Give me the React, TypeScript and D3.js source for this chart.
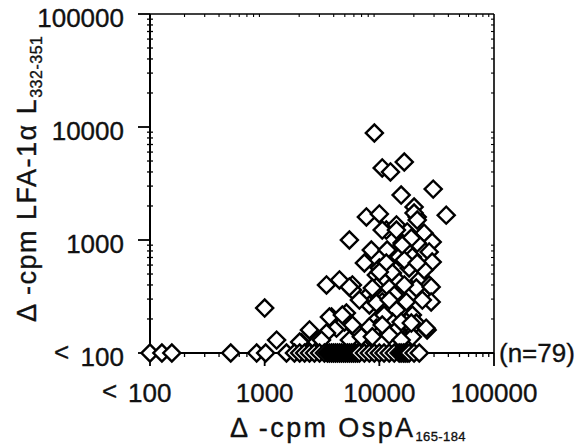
import React from "react";
import * as d3 from "d3";

// Tick values / labels (log axes)
const xTicks = [100, 1000, 10000, 100000];
const xTickLabels = ["100", "1000", "10000", "100000"];
const yTicks = [100, 1000, 10000, 100000];
const yTickLabels = ["100", "1000", "10000", "100000"];

// Responses above the detection limit (x: OspA, y: LFA-1)
const upperX = [9050, 10600, 12500, 16500, 15500, 29500, 20100, 7710, 10000, 38300, 21400, 20100, 21400, 11500, 14100, 5480, 17500, 24600, 28900, 8510, 11700, 15800, 21400, 27200, 7410, 10000, 14900, 19400, 28900, 11500, 18200, 13000, 9420, 22300, 27200, 3460, 4490, 5820, 11000, 14900, 1000, 1271, 5820, 7710, 10600, 9420, 12200, 21000, 28300, 28300, 17200, 8180, 14100, 19400, 3830, 5160, 9420, 13000, 17200, 21000, 2460, 4230, 6070, 9420, 14100, 26100, 3460, 8180, 2100, 2830, 5480, 17200, 19400, 10600, 19000, 16500, 8690, 6700, 13500, 23700, 4970, 11000, 6970, 12200, 3130, 14100, 15800, 10000, 5480, 9420, 12200, 3670, 4760, 5820, 8180, 10600, 15500, 19000, 25600, 2020, 8690, 15500, 24600, 16500, 21400];
const upperY = [8850, 4340, 4000, 4900, 2500, 2820, 1960, 1600, 1700, 1660, 1600, 1730, 1500, 1225, 1360, 1000, 1180, 1150, 960, 815, 815, 940, 940, 784, 626, 565, 708, 708, 639, 626, 565, 510, 490, 443, 400, 400, 443, 400, 425, 425, 250, 130, 361, 313, 283, 384, 376, 376, 384, 283, 283, 266, 240, 217, 208, 226, 196, 188, 188, 184, 160, 166, 166, 166, 160, 160, 150, 139, 123, 125, 130, 130, 139, 1225, 1040, 665, 376, 294, 326, 294, 188, 217, 139, 144, 130, 1225, 903, 521, 384, 277, 294, 208, 217, 177, 170, 177, 188, 184, 166, 125, 139, 130, 543, 400, 626];

// Responses below detection limit on y (plotted at "< 100")
const lowX = [100, 127, 155, 506, 851, 1020, 1550, 1820, 2020, 2230, 2460, 2720, 3010, 3320, 3530, 3670, 3830, 3980, 4140, 4310, 4490, 4670, 4870, 5060, 5270, 5480, 5710, 5940, 6180, 6440, 6700, 7410, 8180, 9050, 10000, 11000, 12200, 13500, 14900, 15500, 16200, 16800, 17500, 18200, 20100, 22300];
const lowY = 100;

const W = 583;
const H = 446;
const FONT = "'Liberation Sans', Arial, Helvetica, sans-serif";

export default function App() {
  const x = d3.scaleLog().domain([100, 100000]).range([150, 494]);
  const y = d3.scaleLog().domain([100, 100000]).range([353, 14]);

  const minor: number[] = [];
  for (let k = 2; k < 5; k++) {
    for (let m = 2; m <= 9; m++) minor.push(m * Math.pow(10, k));
  }

  const diamond = d3.symbol().type(d3.symbolSquare).size(146)() as string;

  const upper = upperX.map((v, i) => ({ x: v, y: upperY[i] }));
  const low = lowX.map((v) => ({ x: v, y: lowY }));

  const x0 = x(100), x1 = x(100000), y0 = y(100), y1 = y(100000);
  const txt = { fill: "#111", stroke: "#111", strokeWidth: 0.35 };

  return (
    <svg width={W} height={H} style={{ position: "absolute", left: 0, top: 0, background: "#fff" }}
      fontFamily={FONT}>
      <rect x={0} y={0} width={W} height={H} fill="#fff" />
      {/* frame */}
      <line x1={x0} x2={x0} y1={y1} y2={y0} stroke="#000" strokeWidth={2} />
      <line x1={x0} x2={x1} y1={y0} y2={y0} stroke="#000" strokeWidth={2} />
      <line x1={x0} x2={x1} y1={y1} y2={y1} stroke="#000" strokeWidth={1.6} />
      <line x1={x1} x2={x1} y1={y1} y2={y0} stroke="#000" strokeWidth={1.6} />
      {/* major ticks */}
      {yTicks.map((t) => (
        <line key={"ym" + t} x1={x0 - 12} x2={x0} y1={y(t)} y2={y(t)} stroke="#000" strokeWidth={1.8} />
      ))}
      {xTicks.map((t) => (
        <line key={"xm" + t} x1={x(t)} x2={x(t)} y1={y0} y2={y0 + 13} stroke="#000" strokeWidth={1.8} />
      ))}
      {/* minor ticks */}
      {minor.map((t) => (
        <g key={"mn" + t}>
          <line x1={x0 - 3} x2={x0 + 3} y1={y(t)} y2={y(t)} stroke="#000" strokeWidth={1.3} />
          <line x1={x1 - 3} x2={x1} y1={y(t)} y2={y(t)} stroke="#000" strokeWidth={1.1} />
          <line x1={x(t)} x2={x(t)} y1={y0} y2={y0 + 4} stroke="#000" strokeWidth={1.3} />
          <line x1={x(t)} x2={x(t)} y1={y1} y2={y1 + 3} stroke="#000" strokeWidth={1.1} />
        </g>
      ))}
      {/* points */}
      {upper.map((d, i) => (
        <path key={"u" + i} d={diamond} transform={`translate(${x(d.x)},${y(d.y)}) rotate(45)`}
          fill="#fff" stroke="#000" strokeWidth={2.4} />
      ))}
      {low.map((d, i) => (
        <path key={"l" + i} d={diamond} transform={`translate(${x(d.x)},${y(d.y)}) rotate(45)`}
          fill="#fff" stroke="#000" strokeWidth={2.4} />
      ))}
      {/* y tick labels */}
      {yTicks.map((t, i) => (
        <text key={"yl" + t} x={124} y={y(t) + 13} textAnchor="end" fontSize={26} {...txt}>
          {yTickLabels[i]}
        </text>
      ))}
      <text x={54} y={y(100) + 8} fontSize={26} {...txt}>&lt;</text>
      {/* x tick labels */}
      {xTicks.map((t, i) => (
        <text key={"xl" + t} x={i === 0 ? 128 : x(t)} y={402} textAnchor={i === 0 ? "start" : "middle"}
          fontSize={26} {...txt}>
          {xTickLabels[i]}
        </text>
      ))}
      <text x={102} y={400} fontSize={26} {...txt}>&lt;</text>
      {/* n label */}
      <text x={499} y={362} fontSize={26} {...txt}>(n=79)</text>
      {/* x title */}
      <text x={230} y={437} fontSize={27} letterSpacing={2.4} {...txt}>
        Δ -cpm OspA<tspan fontSize={13} letterSpacing={0.4} dy={4}>165-184</tspan>
      </text>
      {/* y title */}
      <text transform="translate(36,322) rotate(-90)" fontSize={27} letterSpacing={1.5} {...txt}>
        Δ -cpm LFA-1α L<tspan fontSize={16} letterSpacing={0.5} dy={6}>332-351</tspan>
      </text>
    </svg>
  );
}
